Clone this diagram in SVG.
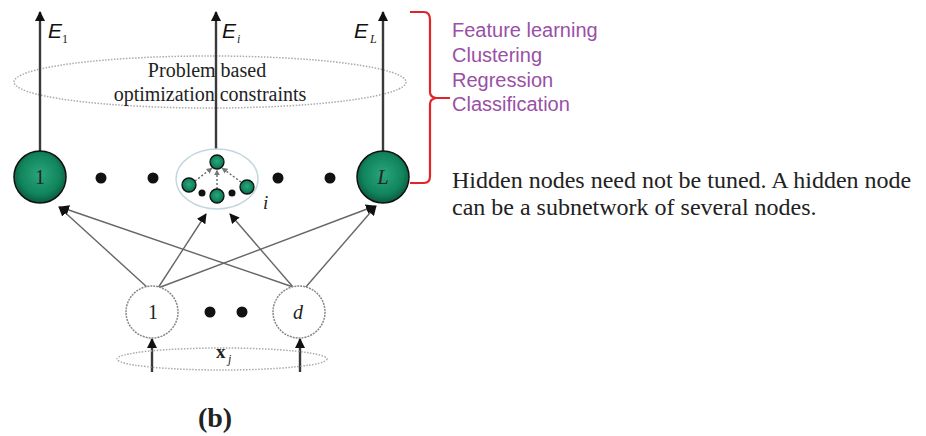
<svg xmlns="http://www.w3.org/2000/svg" width="926" height="436" viewBox="0 0 926 436">
<defs>
<radialGradient id="g" cx="50%" cy="45%" r="55%">
<stop offset="0" stop-color="#2aa67c"/>
<stop offset="0.7" stop-color="#11845c"/>
<stop offset="1" stop-color="#0a5a3e"/>
</radialGradient>
<marker id="ah" viewBox="0 0 10 10" refX="9" refY="5" markerWidth="10" markerHeight="10" markerUnits="userSpaceOnUse" orient="auto">
<path d="M0,0 L10,5 L0,10 z" fill="#111"/>
</marker>
<marker id="ahs" viewBox="0 0 10 10" refX="9" refY="5" markerWidth="6" markerHeight="6" markerUnits="userSpaceOnUse" orient="auto">
<path d="M0,0 L10,5 L0,10 z" fill="#777"/>
</marker>
</defs>
<style>
.out{stroke:#3a3a3a;stroke-width:2.4;fill:none}
.con{stroke:#666;stroke-width:1.4;fill:none}
.dot{fill:#111}
.big{fill:url(#g);stroke:#111;stroke-width:1.5}
.sm{fill:url(#g);stroke:#111;stroke-width:1.3}
.inp{fill:#fff;stroke:#888;stroke-width:1.5;stroke-dasharray:2 1}
.dotted{fill:none;stroke:#aaa;stroke-width:1.5;stroke-dasharray:1.5 1.5}
.serif{font-family:"Liberation Serif",serif;fill:#222}
.sans{font-family:"Liberation Sans",sans-serif}
.purple{font-family:"Liberation Sans",sans-serif;font-size:20px;fill:#9a4fa6}
</style>
<g id="constraints">
<ellipse class="dotted" cx="210" cy="82" rx="196" ry="26"/>
<text class="serif" x="207" y="77" font-size="20" text-anchor="middle">Problem based</text>
<text class="serif" x="210" y="101" font-size="20" text-anchor="middle">optimization constraints</text>
</g>
<g id="connectors">
<line class="out" x1="40" y1="151" x2="40" y2="12" marker-end="url(#ah)"/>
<line class="out" x1="216" y1="149" x2="216" y2="12" marker-end="url(#ah)"/>
<line class="out" x1="383" y1="151" x2="383" y2="12" marker-end="url(#ah)"/>
<line class="con" x1="148" y1="288" x2="59" y2="207" marker-end="url(#ah)"/>
<line class="con" x1="158" y1="288" x2="206" y2="214" marker-end="url(#ah)"/>
<line class="con" x1="158" y1="288" x2="375" y2="206" marker-end="url(#ah)"/>
<line class="con" x1="293" y1="287" x2="60" y2="207" marker-end="url(#ah)"/>
<line class="con" x1="293" y1="287" x2="230" y2="214" marker-end="url(#ah)"/>
<line class="con" x1="305" y1="288" x2="376" y2="206" marker-end="url(#ah)"/>
<line class="out" x1="152" y1="372" x2="152" y2="339" stroke-width="1.5" marker-end="url(#ah)"/>
<line class="out" x1="300" y1="372" x2="300" y2="339" stroke-width="1.5" marker-end="url(#ah)"/>
</g>
<g id="labels-E">
<text class="sans" x="48" y="38" font-size="21" font-style="italic" fill="#111">E</text>
<text class="serif" x="62" y="43" font-size="12">1</text>
<text class="sans" x="222" y="38" font-size="21" font-style="italic" fill="#111">E</text>
<text class="serif" x="237" y="43" font-size="12" font-style="italic">i</text>
<text class="sans" x="354" y="38" font-size="21" font-style="italic" fill="#111">E</text>
<text class="serif" x="370" y="43" font-size="12" font-style="italic">L</text>
</g>
<g id="hidden-1">
<circle class="big" cx="40" cy="177" r="26"/>
<text class="serif" x="40" y="184" font-size="20" text-anchor="middle">1</text>
</g>
<g id="hidden-dots">
<circle class="dot" cx="101" cy="178" r="5.5"/>
<circle class="dot" cx="153" cy="178" r="5.5"/>
<circle class="dot" cx="278" cy="178" r="5.5"/>
<circle class="dot" cx="330" cy="178" r="5.5"/>
</g>
<g id="hidden-i">
<ellipse cx="217" cy="179" rx="41" ry="30" fill="#fff" stroke="#c3d8de" stroke-width="1.5"/>
<line class="con" x1="195" y1="181" x2="212" y2="168" stroke-dasharray="2 2" stroke-width="1.2" marker-end="url(#ahs)"/>
<line class="con" x1="241" y1="182" x2="222" y2="168" stroke-dasharray="2 2" stroke-width="1.2" marker-end="url(#ahs)"/>
<line class="con" x1="217" y1="189" x2="217" y2="170" stroke-dasharray="2 2" stroke-width="1.2" marker-end="url(#ahs)"/>
<circle class="sm" cx="217" cy="162" r="7"/>
<circle class="sm" cx="189" cy="185" r="7"/>
<circle class="sm" cx="247" cy="187" r="7"/>
<circle class="sm" cx="217" cy="196" r="7"/>
<circle class="dot" cx="202" cy="193" r="3.5"/>
<circle class="dot" cx="232" cy="193" r="3.5"/>
<text class="serif" x="263" y="209" font-size="19" font-style="italic">i</text>
</g>
<g id="hidden-L">
<circle class="big" cx="383" cy="177" r="26"/>
<text class="serif" x="383" y="184" font-size="20" font-style="italic" text-anchor="middle">L</text>
</g>
<g id="input-1">
<circle class="inp" cx="152" cy="312" r="26"/>
<text class="serif" x="153" y="319" font-size="20" text-anchor="middle">1</text>
</g>
<g id="input-dots">
<circle class="dot" cx="210" cy="312" r="5.5"/>
<circle class="dot" cx="242" cy="312" r="5.5"/>
</g>
<g id="input-d">
<circle class="inp" cx="299" cy="312" r="26"/>
<text class="serif" x="298" y="319" font-size="20" font-style="italic" text-anchor="middle">d</text>
</g>
<g id="input-x">
<ellipse class="dotted" cx="222" cy="359" rx="105" ry="11"/>
<text class="serif" x="216" y="358" font-size="19" font-weight="bold">x</text>
<text class="serif" x="228" y="363" font-size="12" font-style="italic">j</text>
</g>
<g id="brace">
<path d="M410,12 L424,12 Q430,12 430,20 L430,92 Q430,97 436,98 L450,98 M436,98 Q430,99 430,104 L430,176 Q430,183 424,183 L410,183" fill="none" stroke="#e0242a" stroke-width="2.2"/>
</g>
<g id="tasks">
<text class="purple" x="452" y="37">Feature learning</text>
<text class="purple" x="452" y="62">Clustering</text>
<text class="purple" x="452" y="87">Regression</text>
<text class="purple" x="452" y="111">Classification</text>
</g>
<g id="note">
<text class="serif" x="452" y="188" font-size="24">Hidden nodes need not be tuned. A hidden node</text>
<text class="serif" x="452" y="215" font-size="24">can be a subnetwork of several nodes.</text>
</g>
<text class="serif" x="215" y="427" font-size="28" font-weight="bold" text-anchor="middle" fill="#111">(b)</text>
</svg>
